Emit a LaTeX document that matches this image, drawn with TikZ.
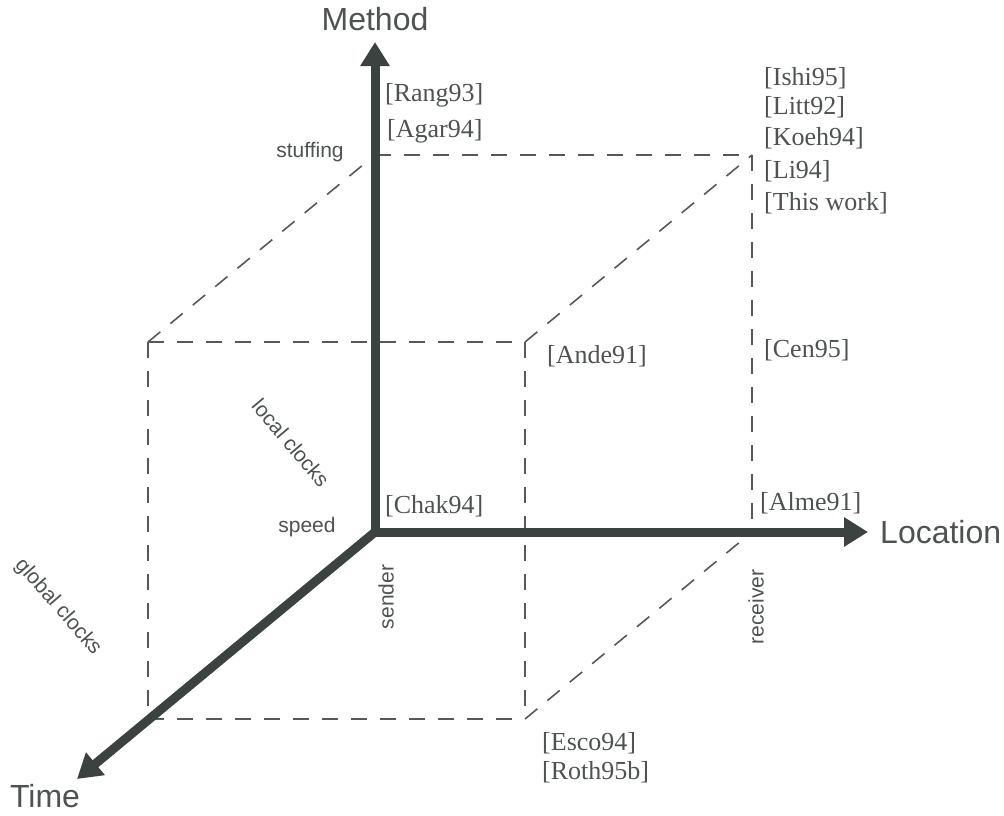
\documentclass[tikz,border=0pt]{standalone}
\usepackage{fontspec}
\setmainfont{Liberation Serif}
\setsansfont{Liberation Sans}
\usetikzlibrary{arrows.meta}
\definecolor{axisgray}{HTML}{3C423F}
\definecolor{textgray}{HTML}{4E5250}
\definecolor{dashgray}{HTML}{555957}
\begin{document}
\begin{tikzpicture}[x=1pt,y=-1pt,
  axis/.style={line width=9pt,color=axisgray,-{Triangle[length=24pt,width=28pt]}},
  edge/.style={line width=1.6pt,color=dashgray,dash pattern=on 16pt off 13pt},
  axislabel/.style={font=\sffamily\fontsize{32}{36}\selectfont,text=textgray,inner sep=0pt},
  cite/.style={font=\rmfamily\fontsize{26}{30}\selectfont,text=textgray,inner sep=0pt,anchor=west},
  tag/.style={font=\sffamily\fontsize{21}{24}\selectfont,text=textgray,inner sep=0pt}]
\useasboundingbox (0,0) rectangle (1004,815);

% origin and axis tips
\coordinate (O) at (375,532);
\coordinate (Mtip) at (375,42);
\coordinate (Ltip) at (868,532);
\coordinate (Ttip) at (77,779);

% cube: back face on the axes, front face shifted toward the viewer
\coordinate (BT) at (375,155);
\coordinate (BTR) at (752,155);
\coordinate (BR) at (752,532);
\coordinate (FTL) at (148,342);
\coordinate (FTR) at (525,342);
\coordinate (FBR) at (525,719);
\coordinate (FBL) at (148,719);

% dashed cube edges
\draw[edge] (BT) -- (BTR);
\draw[edge] (BTR) -- (BR);
\draw[edge] (FTL) -- (BT);
\draw[edge] (FTR) -- (BTR);
\draw[edge] (FBR) -- (BR);
\draw[edge] (FTL) -- (FTR);
\draw[edge] (FTL) -- (FBL);
\draw[edge] (FTR) -- (FBR);
\draw[edge] (FBL) -- (FBR);

% axes
\draw[axis] (O) -- (Mtip);
\draw[axis] (O) -- (Ltip);
\draw[axis] (O) -- (Ttip);

% axis names
\node[axislabel] (method) at (375,19) {Method};
\node[axislabel,anchor=west] (location) at (880,532) {Location};
\node[axislabel] (time) at (45,796) {Time};

% value labels along the axes
\node[tag] (stuffing) at (310,152) {stuffing};
\node[tag] (speed) at (307,527) {speed};
\node[tag,rotate=90] (sender) at (386,597) {sender};
\node[tag,rotate=90] (receiver) at (756,607) {receiver};
\node[tag,rotate=-50] (local) at (291,443) {local clocks};
\node[tag,rotate=-49] (global) at (58,607) {global clocks};

% references
\node[cite] (rang) at (385,95) {[Rang93]};
\node[cite] (agar) at (387,131) {[Agar94]};
\node[cite] (ishi) at (764,78) {[Ishi95]};
\node[cite] (litt) at (764,107) {[Litt92]};
\node[cite] (koeh) at (764,138) {[Koeh94]};
\node[cite] (li) at (764,171) {[Li94]};
\node[cite] (this) at (764,203) {[This work]};
\node[cite] (ande) at (547,356) {[Ande91]};
\node[cite] (cen) at (764,350) {[Cen95]};
\node[cite] (chak) at (385,506) {[Chak94]};
\node[cite] (alme) at (760,503) {[Alme91]};
\node[cite] (esco) at (542,743) {[Esco94]};
\node[cite] (roth) at (542,772) {[Roth95b]};
\end{tikzpicture}
\end{document}
